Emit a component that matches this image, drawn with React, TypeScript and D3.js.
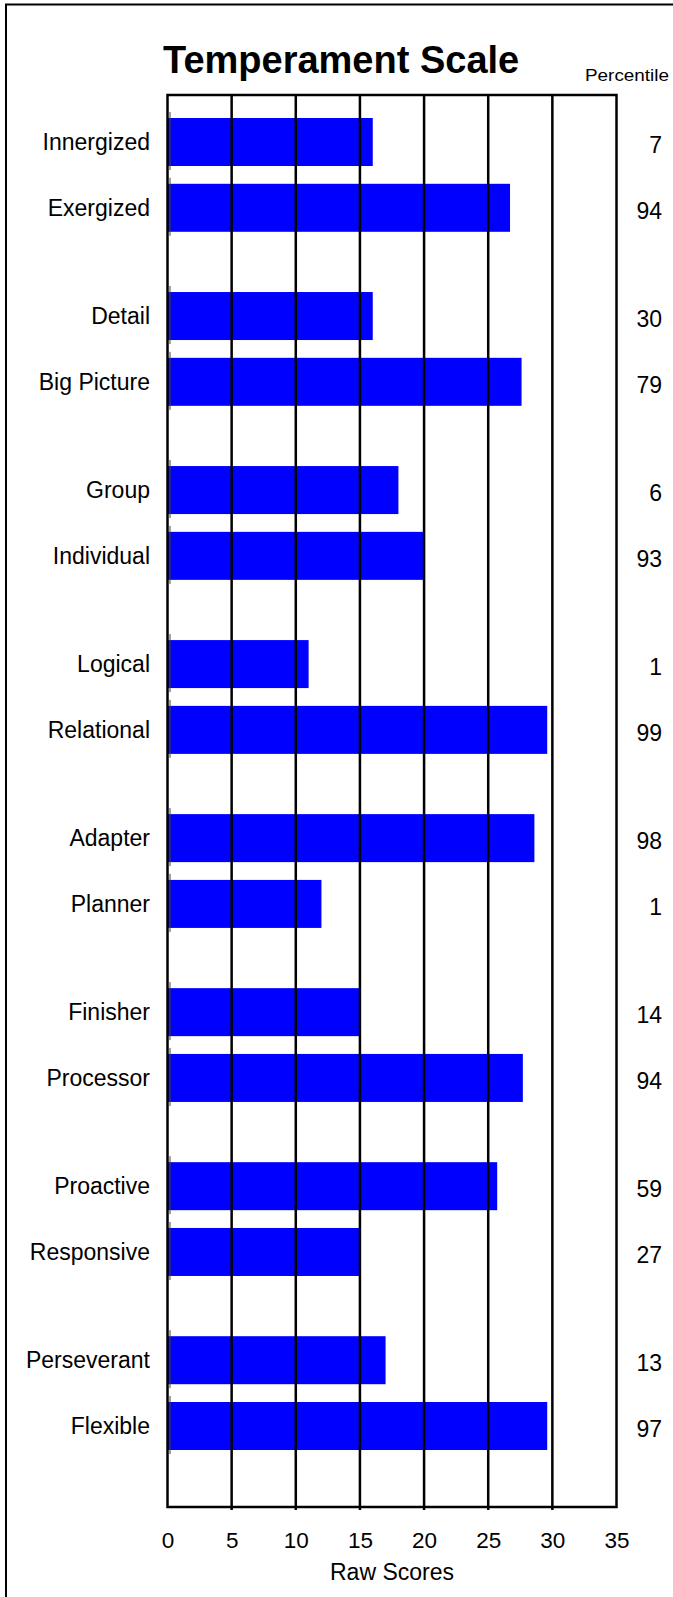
import * as d3 from 'd3';
import { useEffect, useRef } from 'react';

// scales
const categories = [
  'Innergized',
  'Exergized',
  'Detail',
  'Big Picture',
  'Group',
  'Individual',
  'Logical',
  'Relational',
  'Adapter',
  'Planner',
  'Finisher',
  'Processor',
  'Proactive',
  'Responsive',
  'Perseverant',
  'Flexible',
];
const rawScores = [16, 26.7, 16, 27.6, 18, 20, 11, 29.6, 28.6, 12, 15, 27.7, 25.7, 15, 17, 29.6];
const percentiles = [7, 94, 30, 79, 6, 93, 1, 99, 98, 1, 14, 94, 59, 27, 13, 97];
const xTicks = [0, 5, 10, 15, 20, 25, 30, 35];

const WIDTH = 673;
const HEIGHT = 1597;
const FONT = "'Liberation Sans', Arial, Helvetica, sans-serif";

// pairs of rows sit closer together than the groups
const GROUP_STEP = 2.645;
const slot = (i: number) => Math.floor(i / 2) * GROUP_STEP + (i % 2);

function TemperamentChart() {
  const svgElement = useRef<SVGSVGElement | null>(null);

  useEffect(() => {
    if (!svgElement.current) return;
    const svg = d3.select(svgElement.current);
    svg.selectAll('*').remove();

    const plotTop = 95;
    const plotBottom = 1507;

    const x = d3.scaleLinear().domain([0, 35]).range([167.5, 616.5]);
    const y = d3
      .scaleLinear()
      .domain([0, slot(categories.length - 1)])
      .range([142, 1426]);
    const barH = 48;

    const data = categories.map((name, i) => ({
      name,
      value: rawScores[i],
      pct: percentiles[i],
      cy: y(slot(i)),
    }));

    // outer frame (runs off the right and bottom of the page)
    svg
      .append('rect')
      .attr('x', 6)
      .attr('y', 4.5)
      .attr('width', 720)
      .attr('height', 1650)
      .attr('fill', 'none')
      .attr('stroke', '#000')
      .attr('stroke-width', 2);

    // title
    svg
      .append('text')
      .attr('x', 163)
      .attr('y', 73)
      .attr('font-family', FONT)
      .attr('font-weight', 700)
      .attr('font-size', 38)
      .attr('fill', '#000')
      .text('Temperament Scale');

    svg
      .append('text')
      .attr('x', 669)
      .attr('y', 81)
      .attr('text-anchor', 'end')
      .attr('font-family', FONT)
      .attr('font-size', 17)
      .attr('textLength', 84)
      .attr('lengthAdjust', 'spacingAndGlyphs')
      .attr('fill', '#000')
      .text('Percentile');

    const chart = svg.append('g');

    // bars
    chart
      .selectAll('.bar')
      .data(data)
      .join('rect')
      .attr('class', 'bar')
      .attr('x', x(0))
      .attr('y', (d) => d.cy - barH / 2)
      .attr('width', (d) => x(d.value) - x(0))
      .attr('height', barH)
      .attr('fill', '#0000FF');

    // thin start marks at each bar base
    chart
      .selectAll('.base')
      .data(data)
      .join('line')
      .attr('class', 'base')
      .attr('x1', x(0) + 2.5)
      .attr('x2', x(0) + 2.5)
      .attr('y1', (d) => d.cy - barH / 2 - 6)
      .attr('y2', (d) => d.cy + barH / 2 + 4)
      .attr('stroke', '#444')
      .attr('stroke-width', 1);

    // vertical grid lines
    chart
      .selectAll('.grid')
      .data(xTicks.slice(1, -1))
      .join('line')
      .attr('class', 'grid')
      .attr('x1', (d) => x(d))
      .attr('x2', (d) => x(d))
      .attr('y1', plotTop)
      .attr('y2', plotBottom + 3)
      .attr('stroke', '#000')
      .attr('stroke-width', 2.5);

    // plot frame
    chart
      .append('rect')
      .attr('x', x(0))
      .attr('y', plotTop)
      .attr('width', x(35) - x(0))
      .attr('height', plotBottom - plotTop)
      .attr('fill', 'none')
      .attr('stroke', '#000')
      .attr('stroke-width', 2.5);

    // category labels
    chart
      .selectAll('.label')
      .data(data)
      .join('text')
      .attr('class', 'label')
      .attr('x', 150)
      .attr('y', (d) => d.cy)
      .attr('dy', '0.35em')
      .attr('text-anchor', 'end')
      .attr('font-family', FONT)
      .attr('font-size', 23)
      .attr('fill', '#000')
      .text((d) => d.name);

    // percentile values
    chart
      .selectAll('.pct')
      .data(data)
      .join('text')
      .attr('class', 'pct')
      .attr('x', 662)
      .attr('y', (d) => d.cy + 3)
      .attr('dy', '0.35em')
      .attr('text-anchor', 'end')
      .attr('font-family', FONT)
      .attr('font-size', 23)
      .attr('fill', '#000')
      .text((d) => d.pct);

    // x axis labels
    const xAxis = chart
      .append('g')
      .attr('transform', `translate(0, ${plotBottom})`)
      .call(d3.axisBottom(x).tickValues(xTicks).tickSize(0).tickPadding(25));
    xAxis.select('.domain').remove();
    xAxis
      .selectAll('text')
      .attr('font-family', FONT)
      .attr('font-size', 22.5)
      .attr('fill', '#000');

    svg
      .append('text')
      .attr('x', (x(0) + x(35)) / 2)
      .attr('y', 1580)
      .attr('text-anchor', 'middle')
      .attr('font-family', FONT)
      .attr('font-size', 23)
      .attr('fill', '#000')
      .text('Raw Scores');
  }, []);

  return (
    <svg
      ref={svgElement}
      width={WIDTH}
      height={HEIGHT}
      style={{ position: 'absolute', left: 0, top: 0, display: 'block', background: '#fff' }}
    />
  );
}

export default function App() {
  return <TemperamentChart />;
}
